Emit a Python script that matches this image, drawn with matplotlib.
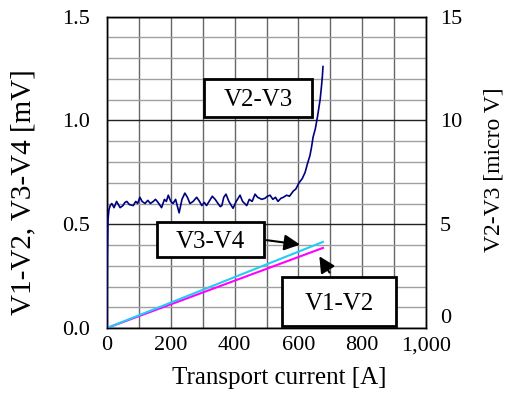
import matplotlib.pyplot as plt
from matplotlib.patches import Rectangle
from matplotlib.ticker import FuncFormatter, MultipleLocator

plt.rcParams['font.family'] = ['Liberation Serif', 'DejaVu Serif']

# transport current [A] and V2-V3 [micro V]
current_23 = [0, 1, 3, 6, 10, 15, 22, 30, 41, 50, 56, 62, 70, 82, 90, 96, 103,
              110, 119, 128, 136, 145, 152, 160, 171, 180, 186, 192, 200, 207,
              215, 220, 226, 235, 244, 252, 260, 270, 281, 290, 297, 305, 312,
              320, 330, 339, 348, 355, 360, 366, 373, 382, 395, 405, 417, 425,
              438, 446, 455, 464, 472, 485, 495, 503, 511, 520, 528, 536, 545,
              553, 563, 572, 584, 592, 602, 612, 621, 628, 636, 641, 646, 653,
              660, 664, 668, 672, 675, 677]
v23 = [0.0, 3.5, 5.2, 5.7, 5.9, 6.0, 5.8, 6.1, 5.8, 5.9, 6.05, 6.1, 5.95, 5.9,
       6.1, 6.0, 6.3, 6.1, 6.0, 6.15, 6.0, 6.1, 6.2, 6.05, 5.8, 6.2, 6.1, 6.4,
       6.1, 6.0, 6.2, 5.9, 5.55, 6.2, 6.5, 6.3, 6.0, 6.1, 6.3, 6.1, 5.9, 6.05,
       5.9, 6.1, 6.35, 6.2, 6.0, 5.85, 5.9, 6.3, 6.45, 6.1, 5.77, 6.1, 6.4, 6.1,
       5.9, 6.2, 6.1, 6.45, 6.3, 6.2, 6.25, 6.35, 6.4, 6.2, 6.3, 6.1, 6.25, 6.3,
       6.4, 6.35, 6.6, 6.7, 7.0, 7.2, 7.5, 7.9, 8.3, 8.7, 9.2, 9.6, 10.2, 10.6,
       11.0, 11.6, 12.1, 12.6]

# linear voltages [mV]
current_lin = [0, 677]
v12 = [0.0, 0.386]
v34 = [0.0, 0.415]

fig = plt.figure(figsize=(5.17, 3.94), dpi=100)
ax = fig.add_axes([0.207, 0.1675, 0.617, 0.79])

ax.set_xlim(0, 1000)
ax.set_ylim(0, 1.5)
ax.xaxis.set_major_locator(MultipleLocator(200))
ax.xaxis.set_minor_locator(MultipleLocator(100))
ax.yaxis.set_major_locator(MultipleLocator(0.5))
ax.yaxis.set_minor_locator(MultipleLocator(0.1))
ax.xaxis.set_major_formatter(FuncFormatter(lambda v, p: f"{int(v):,}"))
ax.yaxis.set_major_formatter(FuncFormatter(lambda v, p: f"{v:.1f}"))

ax.grid(True, axis='x', which='both', color='#666666', lw=1)
ax.grid(True, axis='y', which='minor', color='#a0a0a0', lw=1)
ax.grid(True, axis='y', which='major', color='#222222', lw=1)
ax.set_axisbelow(True)
ax.tick_params(which='both', direction='in', length=0, labelsize=16)
ax.tick_params(axis='x', pad=6)
ax.tick_params(axis='y', pad=12)

ax.plot(current_lin, v12, color='#ff00ff', lw=1.5, zorder=3)
ax.plot(current_lin, v34, color='#22ccf5', lw=1.5, zorder=3)

ax.set_xlabel("Transport current [A]", fontsize=18)
ax.xaxis.set_label_coords(0.539, -0.125)
ax.set_ylabel("V1-V2, V3-V4 [mV]", fontsize=21)
ax.yaxis.set_label_coords(-0.22, 0.437)

ax2 = ax.twinx()
ax2.set_ylim(0, 15)
ax2.set_yticks([0, 5, 10, 15])
ax2.tick_params(direction='in', length=0, labelsize=16, pad=10)
ax2.plot(current_23, v23, color='#000080', lw=1.2, zorder=3)
ax2.set_ylabel("V2-V3 [micro V]", fontsize=17)
ax2.yaxis.set_label_coords(1.18, 0.51)

# labelled boxes
boxes = [("V2-V3", 304, 1.018, 339, 0.182),
         ("V3-V4", 157, 0.342, 335, 0.169),
         ("V1-V2", 549, 0.010, 357, 0.236)]
for label, x0, y0, w, h in boxes:
    ax2.add_patch(Rectangle((x0, y0 * 10), w, h * 10, facecolor='white',
                            edgecolor='black', lw=2, zorder=5, clip_on=False))
    ax2.text(x0 + w / 2, (y0 + h / 2) * 10 - 0.1, label, ha='center',
             va='center', fontsize=18, zorder=6)

ax2.annotate("", xy=(614, 4.0), xytext=(492, 4.25),
             arrowprops=dict(arrowstyle='-|>', color='black', lw=1.5,
                             mutation_scale=24), zorder=6)
ax2.annotate("", xy=(661, 3.57), xytext=(702, 2.56),
             arrowprops=dict(arrowstyle='-|>', color='black', lw=1.5,
                             mutation_scale=24), zorder=6)

for a in (ax, ax2):
    for s in a.spines.values():
        s.set_color('black')
        s.set_linewidth(1)

# the right-hand "0" sits just above the axis bottom
fig.canvas.draw()
for t in ax2.yaxis.get_major_ticks():
    if t.get_loc() == 0:
        t.label2.set_va('bottom')

fig.savefig("out.png", dpi=100)
